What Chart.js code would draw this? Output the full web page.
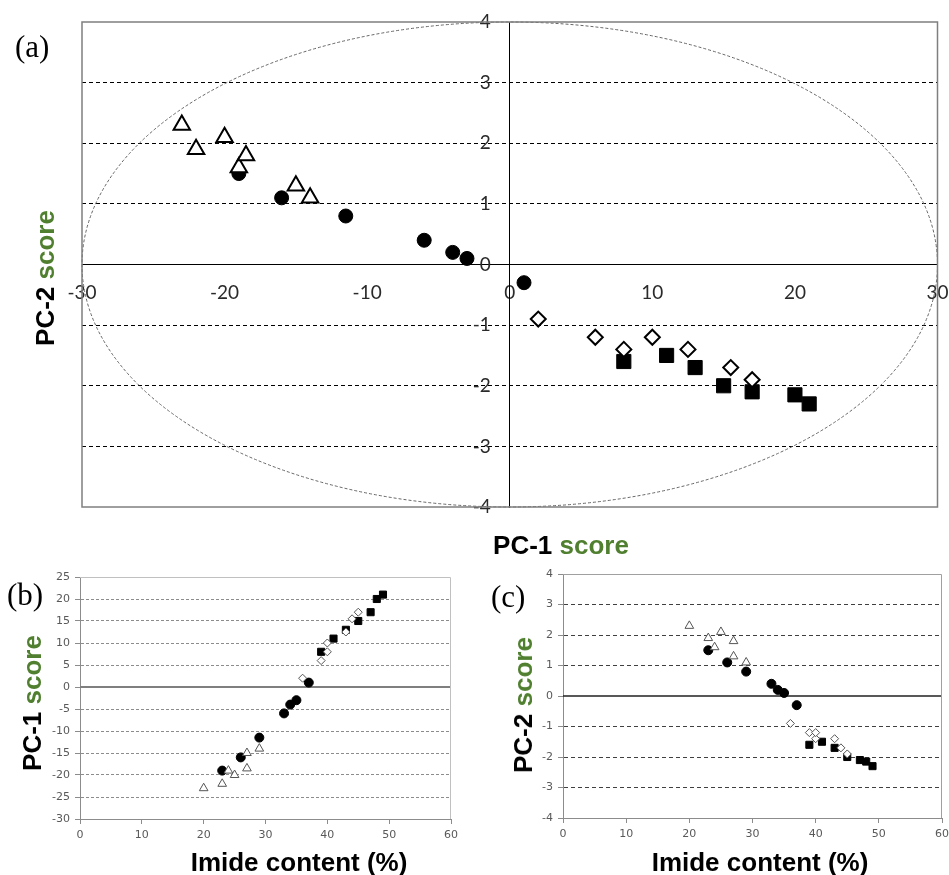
<!DOCTYPE html>
<html>
<head>
<meta charset="utf-8">
<script src="https://cdn.jsdelivr.net/npm/chart.js@4.4.1/dist/chart.umd.min.js"></script>
<style>
  html, body { margin: 0; padding: 0; overflow: hidden; background: #fff; }
  body { width: 949px; height: 875px; position: relative; }
  canvas { position: absolute; }
  .lbl { position: absolute; font-family: "Liberation Serif", "Times New Roman", serif; font-size: 31px; line-height: 1; color: #000; }
  .title { position: absolute; font-family: "Liberation Sans", Arial, sans-serif; font-weight: bold; font-size: 26px;
           line-height: 1; white-space: nowrap; color: #000; transform: translate(-50%, -50%); }
  .title.v { transform: translate(-50%, -50%) rotate(-90deg); }
  .green { color: #4f7f2f; }
</style>
</head>
<body>
<canvas id="chartA" width="949" height="520" style="left:0;top:0"></canvas>
<canvas id="chartB" width="470" height="315" style="left:0;top:560px"></canvas>
<canvas id="chartC" width="489" height="315" style="left:470px;top:560px"></canvas>

<div class="lbl" style="left:15px;top:31px">(a)</div>
<div class="lbl" style="left:7px;top:579px">(b)</div>
<div class="lbl" style="left:491px;top:581px">(c)</div>

<div class="title v" style="left:45px;top:278px">PC-2 <span class="green">score</span></div>
<div class="title" style="left:561px;top:545px">PC-1 <span class="green">score</span></div>
<div class="title v" style="left:32px;top:703px">PC-1 <span class="green">score</span></div>
<div class="title" style="left:299px;top:862px">Imide content (%)</div>
<div class="title v" style="left:523px;top:705px">PC-2 <span class="green">score</span></div>
<div class="title" style="left:760px;top:862px">Imide content (%)</div>

<script>
// sample groups: imide content (%), PC-1 score, PC-2 score
const triImide = [20, 23, 24, 25, 27, 27, 29];
const triPC1 = [-23, -22, -19, -20, -18.5, -15, -14];
const triPC2 = [2.3, 1.9, 1.6, 2.1, 1.8, 1.3, 1.1];

const diaImide = [36, 39, 40, 40, 43, 44, 45];
const diaPC1 = [2, 6, 8, 10, 12.5, 15.5, 17];
const diaPC2 = [-0.9, -1.2, -1.4, -1.2, -1.4, -1.7, -1.9];

const circImide = [23, 26, 29, 33, 34, 35, 37];
const circPC1 = [-19, -16, -11.5, -6, -4, -3, 1];
const circPC2 = [1.5, 1.1, 0.8, 0.4, 0.2, 0.1, -0.3];

const sqImide = [39, 41, 43, 45, 47, 48, 49];
const sqPC1 = [8, 11, 13, 15, 17, 20, 21];
const sqPC2 = [-1.6, -1.5, -1.7, -2, -2.1, -2.15, -2.3];

// confidence ellipse (score plot)
const ellipseRX = 30;
const ellipseRY = 4;

function pts(xs, ys) {
    return xs.map((x, i) => ({ x: x, y: ys[i] }));
}

function makeDatasets(big, xsets, ysets) {
    const open = big ? "#000" : "#555";
    const lw = big ? 2 : 1;
    const r = big ? { tri: 9.5, dia: 7.5, circ: 7, sq: 10 } : { tri: 5, dia: 4, circ: 4.5, sq: 5 };
    return [
        { data: pts(xsets[0], ysets[0]), pointStyle: "triangle", pointRadius: r.tri,
          borderColor: open, backgroundColor: "#fff", borderWidth: lw },
        { data: pts(xsets[1], ysets[1]), pointStyle: "rectRot", pointRadius: r.dia,
          borderColor: open, backgroundColor: "#fff", borderWidth: lw },
        { data: pts(xsets[2], ysets[2]), pointStyle: "circle", pointRadius: r.circ,
          borderColor: "#000", backgroundColor: "#000", borderWidth: 1 },
        { data: pts(xsets[3], ysets[3]), pointStyle: "rect", pointRadius: r.sq,
          borderColor: "#000", backgroundColor: "#000", borderWidth: 1 }
    ];
}

const framePlugin = {
    id: "frame",
    beforeDatasetsDraw(chart, args, opts) {
        const { ctx, chartArea: a, scales } = chart;
        ctx.save();
        if (opts.ellipse) {
            const cx = scales.x.getPixelForValue(0);
            const cy = scales.y.getPixelForValue(0);
            const rx = scales.x.getPixelForValue(ellipseRX) - cx;
            const ry = cy - scales.y.getPixelForValue(ellipseRY);
            ctx.strokeStyle = "#666";
            ctx.lineWidth = 1;
            ctx.setLineDash([3, 2]);
            ctx.beginPath();
            ctx.ellipse(cx, cy, rx, ry, 0, 0, Math.PI * 2);
            ctx.stroke();
            ctx.setLineDash([]);
        }
        if (opts.zeroColor) {
            const y0 = scales.y.getPixelForValue(0);
            ctx.strokeStyle = opts.zeroColor;
            ctx.lineWidth = opts.zeroWidth;
            ctx.beginPath();
            ctx.moveTo(a.left, y0);
            ctx.lineTo(a.right, y0);
            ctx.stroke();
        }
        if (opts.box) {
            ctx.strokeStyle = opts.box;
            ctx.lineWidth = opts.boxWidth || 1;
            if (opts.full) {
                ctx.strokeRect(a.left, a.top, a.right - a.left, a.bottom - a.top);
            } else {
                ctx.beginPath();
                ctx.moveTo(a.left, a.top + 0.5);
                ctx.lineTo(a.right - 0.5, a.top + 0.5);
                ctx.lineTo(a.right - 0.5, a.bottom);
                ctx.stroke();
            }
        }
        ctx.restore();
    }
};

// axes that sit on the zero lines should not push the plot area inwards
function noPadding(s) {
    s.paddingTop = 0;
    s.paddingBottom = 0;
    s.paddingLeft = 0;
    s.paddingRight = 0;
}

// (a) PC-1 vs PC-2 score plot
new Chart(document.getElementById("chartA"), {
    type: "scatter",
    data: { datasets: makeDatasets(true, [triPC1, diaPC1, circPC1, sqPC1], [triPC2, diaPC2, circPC2, sqPC2]) },
    options: {
        responsive: false,
        animation: false,
        layout: { padding: { left: 82, right: 8, top: 22, bottom: 13 } },
        plugins: {
            legend: { display: false },
            tooltip: { enabled: false },
            frame: { ellipse: true, box: "#7f7f7f", boxWidth: 1.5, full: true }
        },
        scales: {
            x: {
                type: "linear", min: -30, max: 30, position: { y: 0 },
                afterFit: noPadding,
                ticks: { stepSize: 10, padding: 17, color: "#2a2a2a", font: { family: "Lato", size: 19 } },
                grid: { display: false, drawTicks: false },
                border: { display: true, color: "#000", width: 1 }
            },
            y: {
                type: "linear", min: -4, max: 4, position: { x: 0 },
                afterFit: noPadding,
                ticks: {
                    stepSize: 1, color: "#2a2a2a", font: { family: "Lato", size: 19 },
                    callback: v => v + "\u2002\u2002"
                },
                grid: {
                    drawTicks: false,
                    color: c => (c.tick && Math.abs(c.tick.value) < 4 && c.tick.value !== 0) ? "#000" : "rgba(0,0,0,0)"
                },
                border: { display: true, color: "#000", width: 1, dash: [4, 3] }
            }
        }
    },
    plugins: [framePlugin]
});

function smallOptions(cfg) {
    return {
        responsive: false,
        animation: false,
        layout: { padding: cfg.padding },
        plugins: {
            legend: { display: false },
            tooltip: { enabled: false },
            frame: { zeroColor: cfg.zeroColor, zeroWidth: cfg.zeroWidth, box: cfg.box }
        },
        scales: {
            x: {
                type: "linear", min: 0, max: 60, position: "bottom",
                afterFit: s => { s.height = cfg.xh; },
                ticks: { stepSize: 10, padding: 5, color: "#595959", font: { family: "DejaVu Sans", size: 11 } },
                grid: { drawOnChartArea: false, tickLength: 5, tickColor: "#8c8c8c" },
                border: { color: "#8c8c8c", width: 1 }
            },
            y: {
                type: "linear", min: cfg.ymin, max: cfg.ymax, position: "left",
                afterFit: s => { s.width = cfg.yw; },
                ticks: { stepSize: cfg.ystep, padding: 5, color: "#595959", font: { family: "DejaVu Sans", size: 11 } },
                grid: {
                    tickLength: 5, tickColor: "#8c8c8c",
                    color: c => (c.tick && c.tick.value > cfg.ymin && c.tick.value < cfg.ymax && c.tick.value !== 0) ? cfg.gridColor : "rgba(0,0,0,0)"
                },
                border: { color: "#8c8c8c", width: 1, dash: cfg.dash }
            }
        }
    };
}

// (b) imide content vs PC-1
new Chart(document.getElementById("chartB"), {
    type: "scatter",
    data: { datasets: makeDatasets(false, [triImide, diaImide, circImide, sqImide], [triPC1, diaPC1, circPC1, sqPC1]) },
    options: smallOptions({
        padding: { left: 0, right: 19, top: 17, bottom: 0 }, xh: 56, yw: 80,
        ymin: -30, ymax: 25, ystep: 5, gridColor: "#8c8c8c", dash: [3, 2],
        zeroColor: "#7f7f7f", zeroWidth: 2, box: "#c0c0c0"
    }),
    plugins: [framePlugin]
});

// (c) imide content vs PC-2
new Chart(document.getElementById("chartC"), {
    type: "scatter",
    data: { datasets: makeDatasets(false, [triImide, diaImide, circImide, sqImide], [triPC2, diaPC2, circPC2, sqPC2]) },
    options: smallOptions({
        padding: { left: 0, right: 17, top: 14, bottom: 0 }, xh: 57, yw: 93,
        ymin: -4, ymax: 4, ystep: 1, gridColor: "#404040", dash: [4, 3],
        zeroColor: "#202020", zeroWidth: 1.5, box: "#a0a0a0"
    }),
    plugins: [framePlugin]
});
</script>
</body>
</html>
